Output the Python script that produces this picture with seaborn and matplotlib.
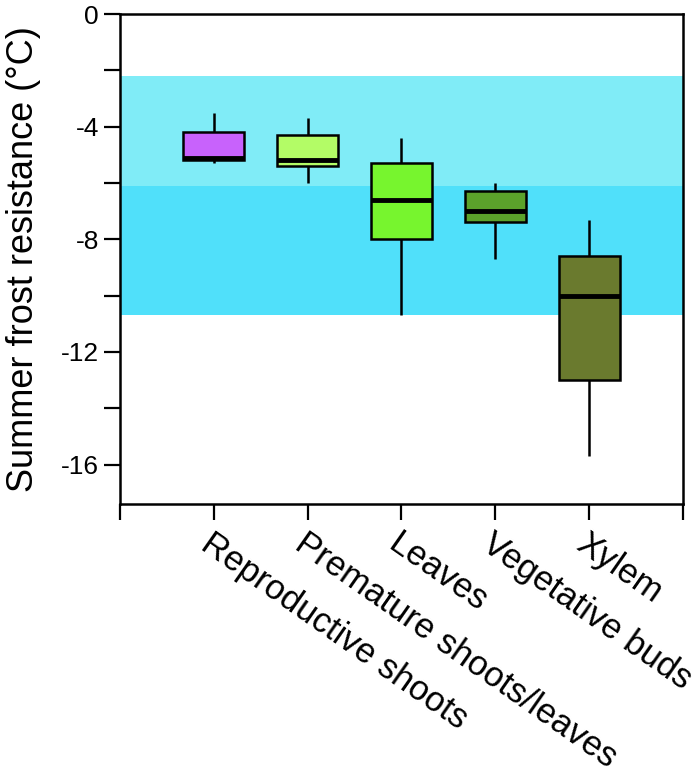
import pandas as pd
import matplotlib.pyplot as plt
import numpy as np
import seaborn as sns

# tissue categories and the five-number summary
# (lower whisker, q1, median, q3, upper whisker)
tissues = ["Reproductive shoots", "Premature shoots/leaves", "Leaves",
           "Vegetative buds", "Xylem"]
reproductive = [-5.3, -5.2, -5.1, -4.2, -3.5]
premature = [-6.0, -5.4, -5.2, -4.3, -3.7]
leaves = [-10.7, -8.0, -6.6, -5.3, -4.4]
veg_buds = [-8.7, -7.4, -7.0, -6.3, -6.0]
xylem = [-15.7, -13.0, -10.0, -8.6, -7.3]

colors = ["#C862FC", "#B3FC66", "#77F52E", "#5BA22B", "#6A7A2E"]

# background bands (temperature ranges)
band_light = (-6.1, -2.2)
band_dark = (-10.7, -6.1)

df = pd.DataFrame({
    "tissue": np.repeat(tissues, 5),
    "value": reproductive + premature + leaves + veg_buds + xylem,
})

sns.set_theme(style="ticks")
plt.rcParams["font.family"] = ["Liberation Sans", "DejaVu Sans"]
plt.rcParams["axes.unicode_minus"] = False
plt.rcParams["text.color"] = "black"
plt.rcParams["axes.labelcolor"] = "black"
plt.rcParams["xtick.color"] = "black"
plt.rcParams["ytick.color"] = "black"

fig = plt.figure(figsize=(7, 7.79), dpi=100)
ax = fig.add_axes([0.171, 0.353, 0.805, 0.629])

ax.axhspan(*band_light, color="#80ECF7", lw=0, zorder=0)
ax.axhspan(*band_dark, color="#50E0FA", lw=0, zorder=0)

sns.boxplot(data=df, x="tissue", y="value", hue="tissue", order=tissues,
            palette=dict(zip(tissues, colors)), saturation=1, whis=(0, 100),
            width=0.65, linecolor="black", linewidth=1.8, showcaps=False,
            legend=False, medianprops={"linewidth": 3.5}, ax=ax)
for p in ax.patches:
    p.set_zorder(2)

ax.set_xlim(-1, 5)
ax.set_xticks(range(-1, 6))
ax.set_xticklabels([""] + tissues + [""], rotation=-35, ha="left",
                   va="top", rotation_mode="anchor", fontsize=25)
ax.set_ylim(-17.4, 0)
ax.set_yticks([0, -4, -8, -12, -16])
ax.set_yticks([-2, -6, -10, -14], minor=True)
ax.tick_params(axis="y", labelsize=19)
ax.tick_params(which="both", length=11.5, width=1.6, direction="out",
               color="black")
ax.tick_params(axis="x", pad=5)
ax.set_xlabel("")
ax.set_ylabel("Summer frost resistance (\u00b0C)", fontsize=26, labelpad=14)
for s in ax.spines.values():
    s.set_linewidth(1.8)
    s.set_color("black")

fig.savefig("out.png", dpi=100)
